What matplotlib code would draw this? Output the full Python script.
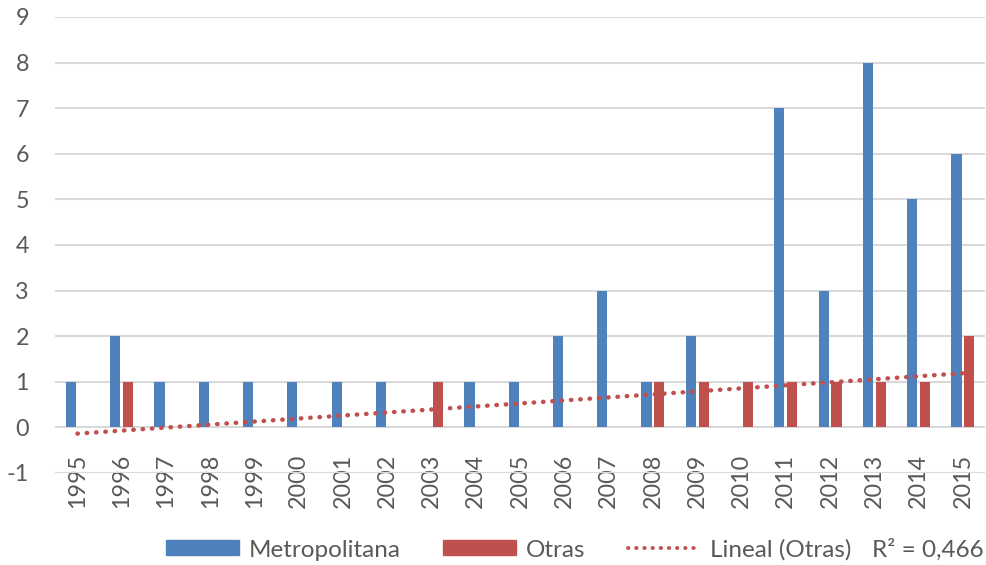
import numpy as np
import matplotlib.pyplot as plt
from matplotlib.patches import Patch
from matplotlib.lines import Line2D

years = list(range(1995, 2016))
metropolitana = [1, 2, 1, 1, 1, 1, 1, 1, 0, 1, 1, 2, 3, 1, 2, 0, 7, 3, 8, 5, 6]
otras = [0, 1, 0, 0, 0, 0, 0, 0, 1, 0, 0, 0, 0, 1, 1, 1, 1, 1, 1, 1, 2]
r2_label = 'R² = 0,466'

blue = '#4f81bd'
red = '#c0504d'
gray = '#595959'

plt.rcParams['font.family'] = ['Lato', 'DejaVu Sans']
plt.rcParams['axes.unicode_minus'] = False

fig = plt.figure(figsize=(9.87, 5.65), dpi=100)
ax = fig.add_axes([0.056, 0.163, 0.942, 0.807])

x = np.arange(len(years))
w = 0.23
ax.bar(x - 0.145, metropolitana, w, color=blue, zorder=3)
ax.bar(x + 0.145, otras, w, color=red, zorder=3)

# linea de tendencia (Otras)
coef = np.polyfit(x, otras, 1)
fit = np.polyval(coef, x)
dots = (0, (0.1, 2.0))
ax.plot(x, fit, color=red, linestyle=dots, linewidth=3.2,
        dash_capstyle='round', zorder=4)

ax.spines['bottom'].set_position(('data', 0))
ax.set_xlim(-0.5, len(years) - 0.5)
ax.set_ylim(-1, 9)
ax.set_yticks(range(-1, 10))
ax.set_xticks(x)
ax.set_xticklabels([str(y) for y in years])
ax.tick_params(axis='both', length=0, labelsize=16.8, colors=gray)
ax.tick_params(axis='x', pad=19, labelrotation=90)
ax.tick_params(axis='y', pad=19)
ax.grid(axis='y', color='#d9d9d9', linewidth=1.5, zorder=0)
for s in ax.spines.values():
    s.set_visible(False)

handles = [Patch(color=blue), Patch(color=red),
           Line2D([0], [0], color=red, linestyle=dots, linewidth=2.8,
                  dash_capstyle='round')]
labels = ['Metropolitana', 'Otras', 'Lineal (Otras)']
fig.legend(handles, labels, loc='center left', bbox_to_anchor=(0.168, 0.027), ncol=3,
           frameon=False, fontsize=17.5, labelcolor=gray, handlelength=3.0,
           handleheight=0.58, columnspacing=1.75, handletextpad=0.4, borderpad=0,
           borderaxespad=0)
fig.text(0.997, 0.027, r2_label, ha='right', va='center', fontsize=17.5, color=gray)

fig.savefig('out.png', dpi=100)
